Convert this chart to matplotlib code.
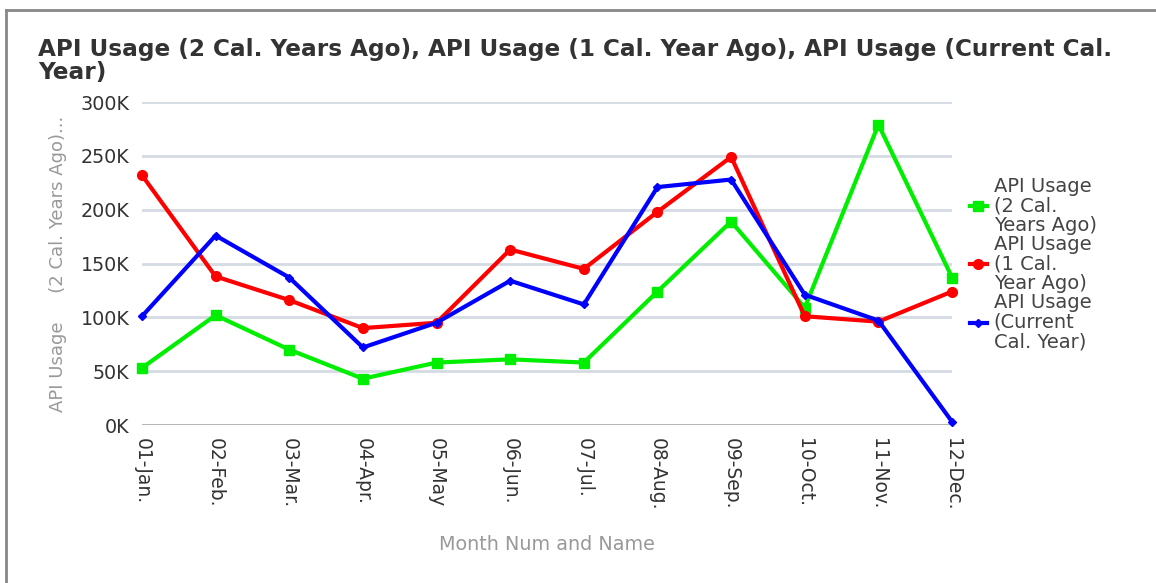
import numpy as np
import matplotlib
matplotlib.use("Agg")
import matplotlib.pyplot as plt
from matplotlib.lines import Line2D
from matplotlib.ticker import FuncFormatter

# data (thousands)
months = ["01-Jan.", "02-Feb.", "03-Mar.", "04-Apr.", "05-May", "06-Jun.",
          "07-Jul.", "08-Aug.", "09-Sep.", "10-Oct.", "11-Nov.", "12-Dec."]
usage_2y = [53, 102, 70, 43, 58, 61, 58, 124, 189, 109, 279, 137]
usage_1y = [232, 138, 116, 90, 95, 163, 145, 198, 249, 101, 96, 124]
usage_cur = [101, 176, 137, 72, 95, 134, 112, 221, 228, 121, 97, 3]
series_labels = ["API Usage\n(2 Cal.\nYears Ago)",
                 "API Usage\n(1 Cal.\nYear Ago)",
                 "API Usage\n(Current\nCal. Year)"]
yticks = [0, 50, 100, 150, 200, 250, 300]

fig = plt.figure(figsize=(11.56, 5.83), dpi=100)
ax = fig.add_axes([0.1228, 0.271, 0.7008, 0.554])

x = np.arange(len(months))
ax.plot(x, usage_2y, color="#00ee00", lw=3.0, marker="s", ms=7, clip_on=False,
        label=series_labels[0], zorder=3)
ax.plot(x, usage_1y, color="#ff0000", lw=3.0, marker="o", ms=7, clip_on=False,
        label=series_labels[1], zorder=4)
ax.plot(x, usage_cur, color="#0000ff", lw=3.0, marker="D", ms=4.5, clip_on=False,
        label=series_labels[2], zorder=5)

ax.set_xlim(0, 11)
ax.set_ylim(0, 300)
ax.set_yticks(yticks)
ax.yaxis.set_major_formatter(FuncFormatter(lambda v, p: "%dK" % v))
ax.set_xticks(x)
ax.set_xticklabels(months, rotation=270, fontsize=13.5, color="#333333")
ax.tick_params(axis="y", labelsize=13.8, labelcolor="#333333", length=0, pad=9)
ax.tick_params(axis="x", length=0, pad=9)
for s in ax.spines.values():
    s.set_visible(False)
ax.grid(axis="y", color="#d5dbe3", lw=2, zorder=0)
ax.axhline(0, color="#b0b0b0", lw=2, zorder=1)
ax.set_axisbelow(True)

ax.set_ylabel("API Usage     (2 Cal. Years Ago)...", fontsize=13, color="#999999",
              labelpad=10)
ax.set_xlabel("Month Num and Name", fontsize=13.8, color="#999999", labelpad=18)

fig.text(38 / 1156, 1 - 38 / 583, "API Usage (2 Cal. Years Ago), API Usage (1 Cal. Year Ago), API Usage (Current Cal.\nYear)",
         fontsize=16.7, fontweight="bold", color="#333333", va="top", ha="left",
         linespacing=1.0)

leg = ax.legend(loc="upper left", bbox_to_anchor=(952 / 1156, 1 - 159 / 583),
                bbox_transform=fig.transFigure, frameon=False, fontsize=14,
                handlelength=0.9, handletextpad=0.35, labelspacing=0.0,
                markerscale=1.0)
for t in leg.get_texts():
    t.set_color("#444444")
    t.set_linespacing(1.04)

# gray frame lines at left and top
fig.add_artist(Line2D([6 / 1156, 6 / 1156], [0, 1 - 10 / 583], color="#888888", lw=2))
fig.add_artist(Line2D([6 / 1156, 1], [1 - 10 / 583, 1 - 10 / 583], color="#888888", lw=2))

fig.savefig("out.png", dpi=100)
